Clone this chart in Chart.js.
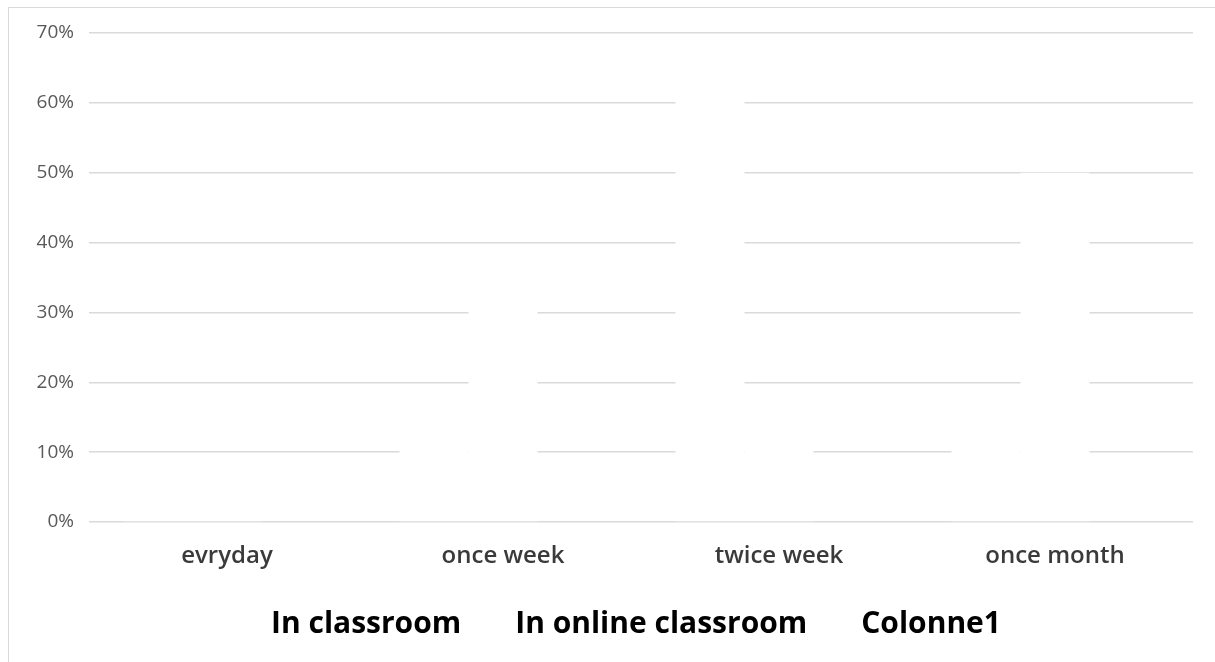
<!DOCTYPE html>
<html>
<head>
<meta charset="utf-8">
<script src="https://cdn.jsdelivr.net/npm/chart.js@4.4.1/dist/chart.umd.min.js"></script>
<style>
  body { margin: 0; background: #ffffff; }
  #wrap { position: relative; width: 1215px; height: 662px; }
  #frame { position: absolute; left: 8px; top: 7px; right: 0; bottom: 0;
           border-left: 1px solid #d9d9d9; border-top: 1px solid #d9d9d9; }
  canvas { position: absolute; left: 0; top: 0; }
</style>
</head>
<body>
<div id="wrap">
  <canvas id="usageChart" width="1215" height="662"></canvas>
  <div id="frame"></div>
</div>
<script>
// categories and series (values in %)
const categories = ["evryday", "once week", "twice week", "once month"];
const seriesNames = ["In classroom", "In online classroom", "Colonne1"];
const inClassroom = [1, 15, 65, 15];
const inOnlineClassroom = [1, 35, 15, 50];
const colonne1 = [0, 0, 0, 0];
const yTicks = [0, 10, 20, 30, 40, 50, 60, 70];

function makeDataset(name, values) {
  return {
    label: name,
    data: values,
    backgroundColor: "#ffffff",
    borderColor: "#ffffff",
    borderWidth: 0,
    categoryPercentage: 0.75,
    barPercentage: 1.0
  };
}

new Chart(document.getElementById("usageChart"), {
  type: "bar",
  data: {
    labels: categories,
    datasets: [
      makeDataset(seriesNames[0], inClassroom),
      makeDataset(seriesNames[1], inOnlineClassroom),
      makeDataset(seriesNames[2], colonne1)
    ]
  },
  options: {
    responsive: false,
    animation: false,
    layout: {
      padding: { left: 30, right: 22, top: 33, bottom: 13 }
    },
    plugins: {
      tooltip: { enabled: false },
      legend: {
        position: "bottom",
        labels: {
          boxWidth: 34,
          padding: 5,
          color: "#000000",
          font: { family: "Open Sans", size: 30, weight: "bold" }
        }
      }
    },
    scales: {
      x: {
        grid: { display: false },
        border: { display: false },
        ticks: {
          color: "#3a3a3a",
          padding: 12,
          font: { family: "Open Sans", size: 24, weight: "600" }
        },
        afterFit: function (axis) { axis.height = 82; }
      },
      y: {
        min: 0,
        max: 70,
        afterBuildTicks: function (axis) {
          axis.ticks = yTicks.map(function (v) { return { value: v }; });
        },
        grid: { color: "#dadada", lineWidth: 1.5, drawTicks: false },
        border: { display: false },
        ticks: {
          color: "#595959",
          padding: 15,
          font: { family: "Open Sans", size: 19 },
          callback: function (v) { return v + "%"; }
        },
        afterFit: function (axis) { axis.width = 59; }
      }
    }
  }
});
</script>
</body>
</html>
